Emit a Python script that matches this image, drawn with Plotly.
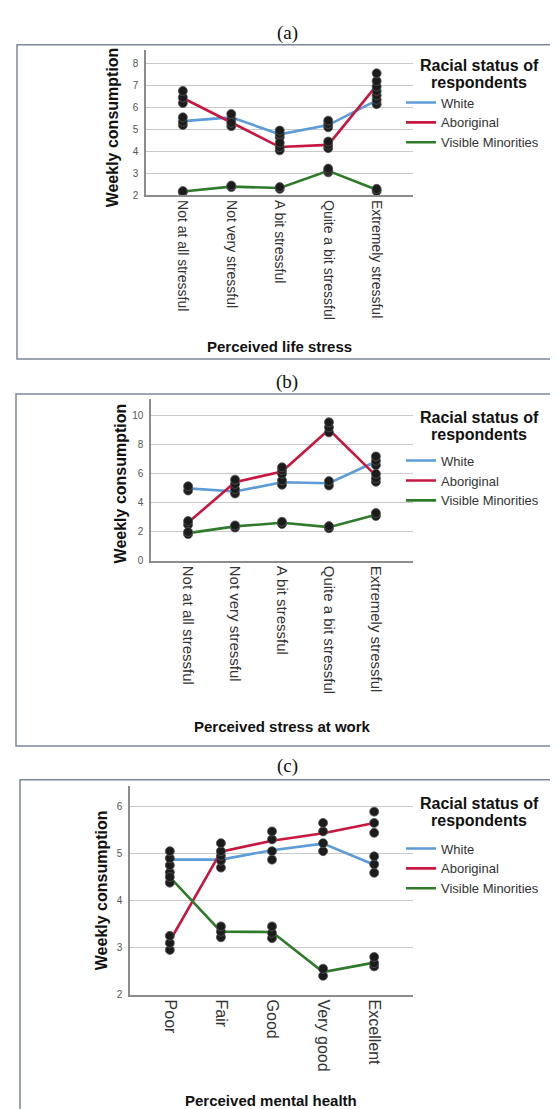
import plotly.graph_objects as go

# ---------------- data ----------------
series_names = ["White", "Aboriginal", "Visible Minorities"]
series_colors = ["#5a9bd8", "#c8173f", "#2e7b2a"]
legend_title_lines = ["Racial status of", "respondents"]

life_stress = ["Not at all stressful", "Not very stressful", "A bit stressful",
               "Quite a bit stressful", "Extremely stressful"]
work_stress = ["Not at all stressful", "Not very stressful", "A bit stressful",
               "Quite a bit stressful", "Extremely stressful"]
mental_health = ["Poor", "Fair", "Good", "Very good", "Excellent"]

# (a) perceived life stress
a_white = [5.38, 5.55, 4.78, 5.2, 6.32]
a_aboriginal = [6.43, 5.3, 4.2, 4.3, 7.0]
a_visible = [2.18, 2.4, 2.34, 3.12, 2.26]
a_white_dots = [[5.2, 5.35, 5.55], [5.45, 5.7], [4.65, 4.8, 4.95], [5.1, 5.25, 5.4], [6.15, 6.35, 6.55]]
a_aboriginal_dots = [[6.2, 6.45, 6.75], [5.15, 5.3], [4.05, 4.2, 4.4], [4.15, 4.3, 4.45], [6.75, 6.95, 7.2, 7.55]]
a_visible_dots = [[2.15, 2.2], [2.38, 2.45], [2.3, 2.38], [3.05, 3.12, 3.22], [2.2, 2.3]]

# (b) perceived stress at work
b_white = [5.0, 4.78, 5.42, 5.35, 6.85]
b_aboriginal = [2.65, 5.42, 6.16, 9.05, 5.88]
b_visible = [1.92, 2.38, 2.63, 2.33, 3.18]
b_white_dots = [[4.85, 5.15], [4.65, 4.95], [5.25, 5.55], [5.2, 5.5], [6.6, 6.9, 7.2]]
b_aboriginal_dots = [[2.5, 2.75], [5.3, 5.6], [6.0, 6.25, 6.45], [8.85, 9.2, 9.55], [5.45, 5.7, 6.0]]
b_visible_dots = [[1.85, 2.0], [2.3, 2.45], [2.55, 2.7], [2.25, 2.4], [3.1, 3.3]]

# (c) perceived mental health
c_white = [4.87, 4.87, 5.07, 5.21, 4.76]
c_aboriginal = [3.14, 5.04, 5.27, 5.43, 5.65]
c_visible = [4.5, 3.34, 3.33, 2.48, 2.68]
c_white_dots = [[4.6, 4.75, 4.9, 5.05], [4.7, 4.85, 4.95], [4.87, 5.05], [5.05, 5.22], [4.59, 4.77, 4.94]]
c_aboriginal_dots = [[2.95, 3.1, 3.25], [5.05, 5.22], [5.3, 5.47], [5.47, 5.65], [5.44, 5.65, 5.89]]
c_visible_dots = [[4.38, 4.5], [3.22, 3.34, 3.45], [3.2, 3.31, 3.45], [2.4, 2.55], [2.6, 2.67, 2.8]]

# ---------------- figure ----------------
W, H = 558, 1109
FONT = "Arial, 'Liberation Sans', sans-serif"
SERIF = "'Times New Roman', 'Liberation Serif', serif"

fig = go.Figure()


def px_x(p):
    return p / W


def px_y(p):
    return 1 - p / H


panels = [
    dict(ax="", cats=life_stress, series=[a_white, a_aboriginal, a_visible],
         dots=[a_white_dots, a_aboriginal_dots, a_visible_dots], legend="legend"),
    dict(ax="2", cats=work_stress, series=[b_white, b_aboriginal, b_visible],
         dots=[b_white_dots, b_aboriginal_dots, b_visible_dots], legend="legend2"),
    dict(ax="3", cats=mental_health, series=[c_white, c_aboriginal, c_visible],
         dots=[c_white_dots, c_aboriginal_dots, c_visible_dots], legend="legend3"),
]

for p in panels:
    xa, ya = "x" + p["ax"], "y" + p["ax"]
    for name, color, vals in zip(series_names, series_colors, p["series"]):
        fig.add_trace(go.Scatter(
            x=p["cats"], y=vals, mode="lines", name=name,
            line=dict(color=color, width=2.6),
            xaxis=xa, yaxis=ya, legend=p["legend"], hoverinfo="skip"))
    for dots in p["dots"]:
        xs, ys = [], []
        for cat, col in zip(p["cats"], dots):
            for v in col:
                xs.append(cat)
                ys.append(v)
        fig.add_trace(go.Scatter(
            x=xs, y=ys, mode="markers", showlegend=False,
            marker=dict(color="#1c1c1c", size=9, line=dict(color="#555555", width=0.8)),
            xaxis=xa, yaxis=ya, hoverinfo="skip"))

axis_common_x = dict(type="category", showgrid=False, zeroline=False,
                     showline=True, linecolor="#8c8c8c", linewidth=1.5,
                     ticks="", tickangle=90, fixedrange=True)
axis_common_y = dict(showgrid=True, gridcolor="#c9c9c9", gridwidth=1.3, zeroline=False,
                     showline=True, linecolor="#8c8c8c", linewidth=1.5, ticks="",
                     tickfont=dict(family=FONT, size=10, color="#555555"),
                     ticklabelstandoff=4)

fig.update_layout(
    width=W, height=H, margin=dict(l=0, r=0, t=0, b=0), autosize=False,
    paper_bgcolor="white", plot_bgcolor="white",
    font=dict(family=FONT, color="#222222"),
    xaxis=dict(axis_common_x, domain=[px_x(138), px_x(405)], range=[-0.76, 4.75],
               anchor="y", tickfont=dict(family=FONT, size=14, color="#333333")),
    yaxis=dict(axis_common_y, domain=[px_y(188.5), px_y(42)], range=[2, 8.62],
               anchor="x", tickvals=[2, 3, 4, 5, 6, 7, 8]),
    xaxis2=dict(axis_common_x, domain=[px_x(143), px_x(405)], range=[-0.79, 4.79],
                anchor="y2", tickfont=dict(family=FONT, size=15, color="#333333")),
    yaxis2=dict(axis_common_y, domain=[px_y(556), px_y(393)], range=[0, 11.16],
                anchor="x2", tickvals=[0, 2, 4, 6, 8, 10]),
    xaxis3=dict(axis_common_x, domain=[px_x(122), px_x(405)], range=[-0.78, 4.76],
                anchor="y3", tickfont=dict(family=FONT, size=16, color="#333333")),
    yaxis3=dict(axis_common_y, domain=[px_y(992), px_y(782)], range=[2, 6.44],
                anchor="x3", tickvals=[2, 3, 4, 5, 6]),
)

legend_common = dict(
    xanchor="left", yanchor="top", bgcolor="rgba(0,0,0,0)", borderwidth=0,
    font=dict(family=FONT, size=13, color="#333333"),
    itemclick=False, itemdoubleclick=False, tracegroupgap=0,
)
# legend tops (px) and legend-title first-line centres (px)
legend_layout = [("legend", 80, 58), ("legend2", 440, 412), ("legend3", 830, 800)]
for key, top, title_y in legend_layout:
    fig.update_layout({key: dict(legend_common, x=px_x(393), y=px_y(top))})
    for i, line in enumerate(legend_title_lines):
        fig.add_annotation(text="<b>" + line + "</b>", xref="paper", yref="paper",
                           x=px_x(471), y=px_y(title_y + 17 * i), xanchor="center",
                           yanchor="middle", showarrow=False,
                           font=dict(family=FONT, size=16, color="#111111"))

# Panel boxes
boxes = [(9, 37, 353), (8, 388, 742), (12, 776, 1130)]
for left, top, bottom in boxes:
    fig.add_shape(type="rect", xref="paper", yref="paper",
                  x0=px_x(left), x1=1.02, y0=px_y(bottom), y1=px_y(top),
                  line=dict(color="#7d8799", width=1.5), fillcolor="rgba(0,0,0,0)",
                  layer="below")

# Panel letters
for label, yc in [("(a)", 25), ("(b)", 376), ("(c)", 762)]:
    fig.add_annotation(text=label, xref="paper", yref="paper", x=0.5, y=px_y(yc),
                       xanchor="center", yanchor="middle", showarrow=False,
                       font=dict(family=SERIF, size=19, color="#111111"))

# Axis titles
x_titles = [("Perceived life stress", 271, 340), ("Perceived stress at work", 274, 722),
            ("Perceived mental health", 263, 1098)]
for text, xc, yc in x_titles:
    fig.add_annotation(text="<b>" + text + "</b>", xref="paper", yref="paper",
                       x=px_x(xc), y=px_y(yc), xanchor="center", yanchor="middle",
                       showarrow=False, font=dict(family=FONT, size=15, color="#111111"))

y_titles = [(104, 120), (112, 478), (93, 887)]
for xc, yc in y_titles:
    fig.add_annotation(text="<b>Weekly consumption</b>", xref="paper", yref="paper",
                       x=px_x(xc), y=px_y(yc), xanchor="center", yanchor="middle",
                       textangle=-90, showarrow=False,
                       font=dict(family=FONT, size=16, color="#111111"))

fig.write_html("out.html")
